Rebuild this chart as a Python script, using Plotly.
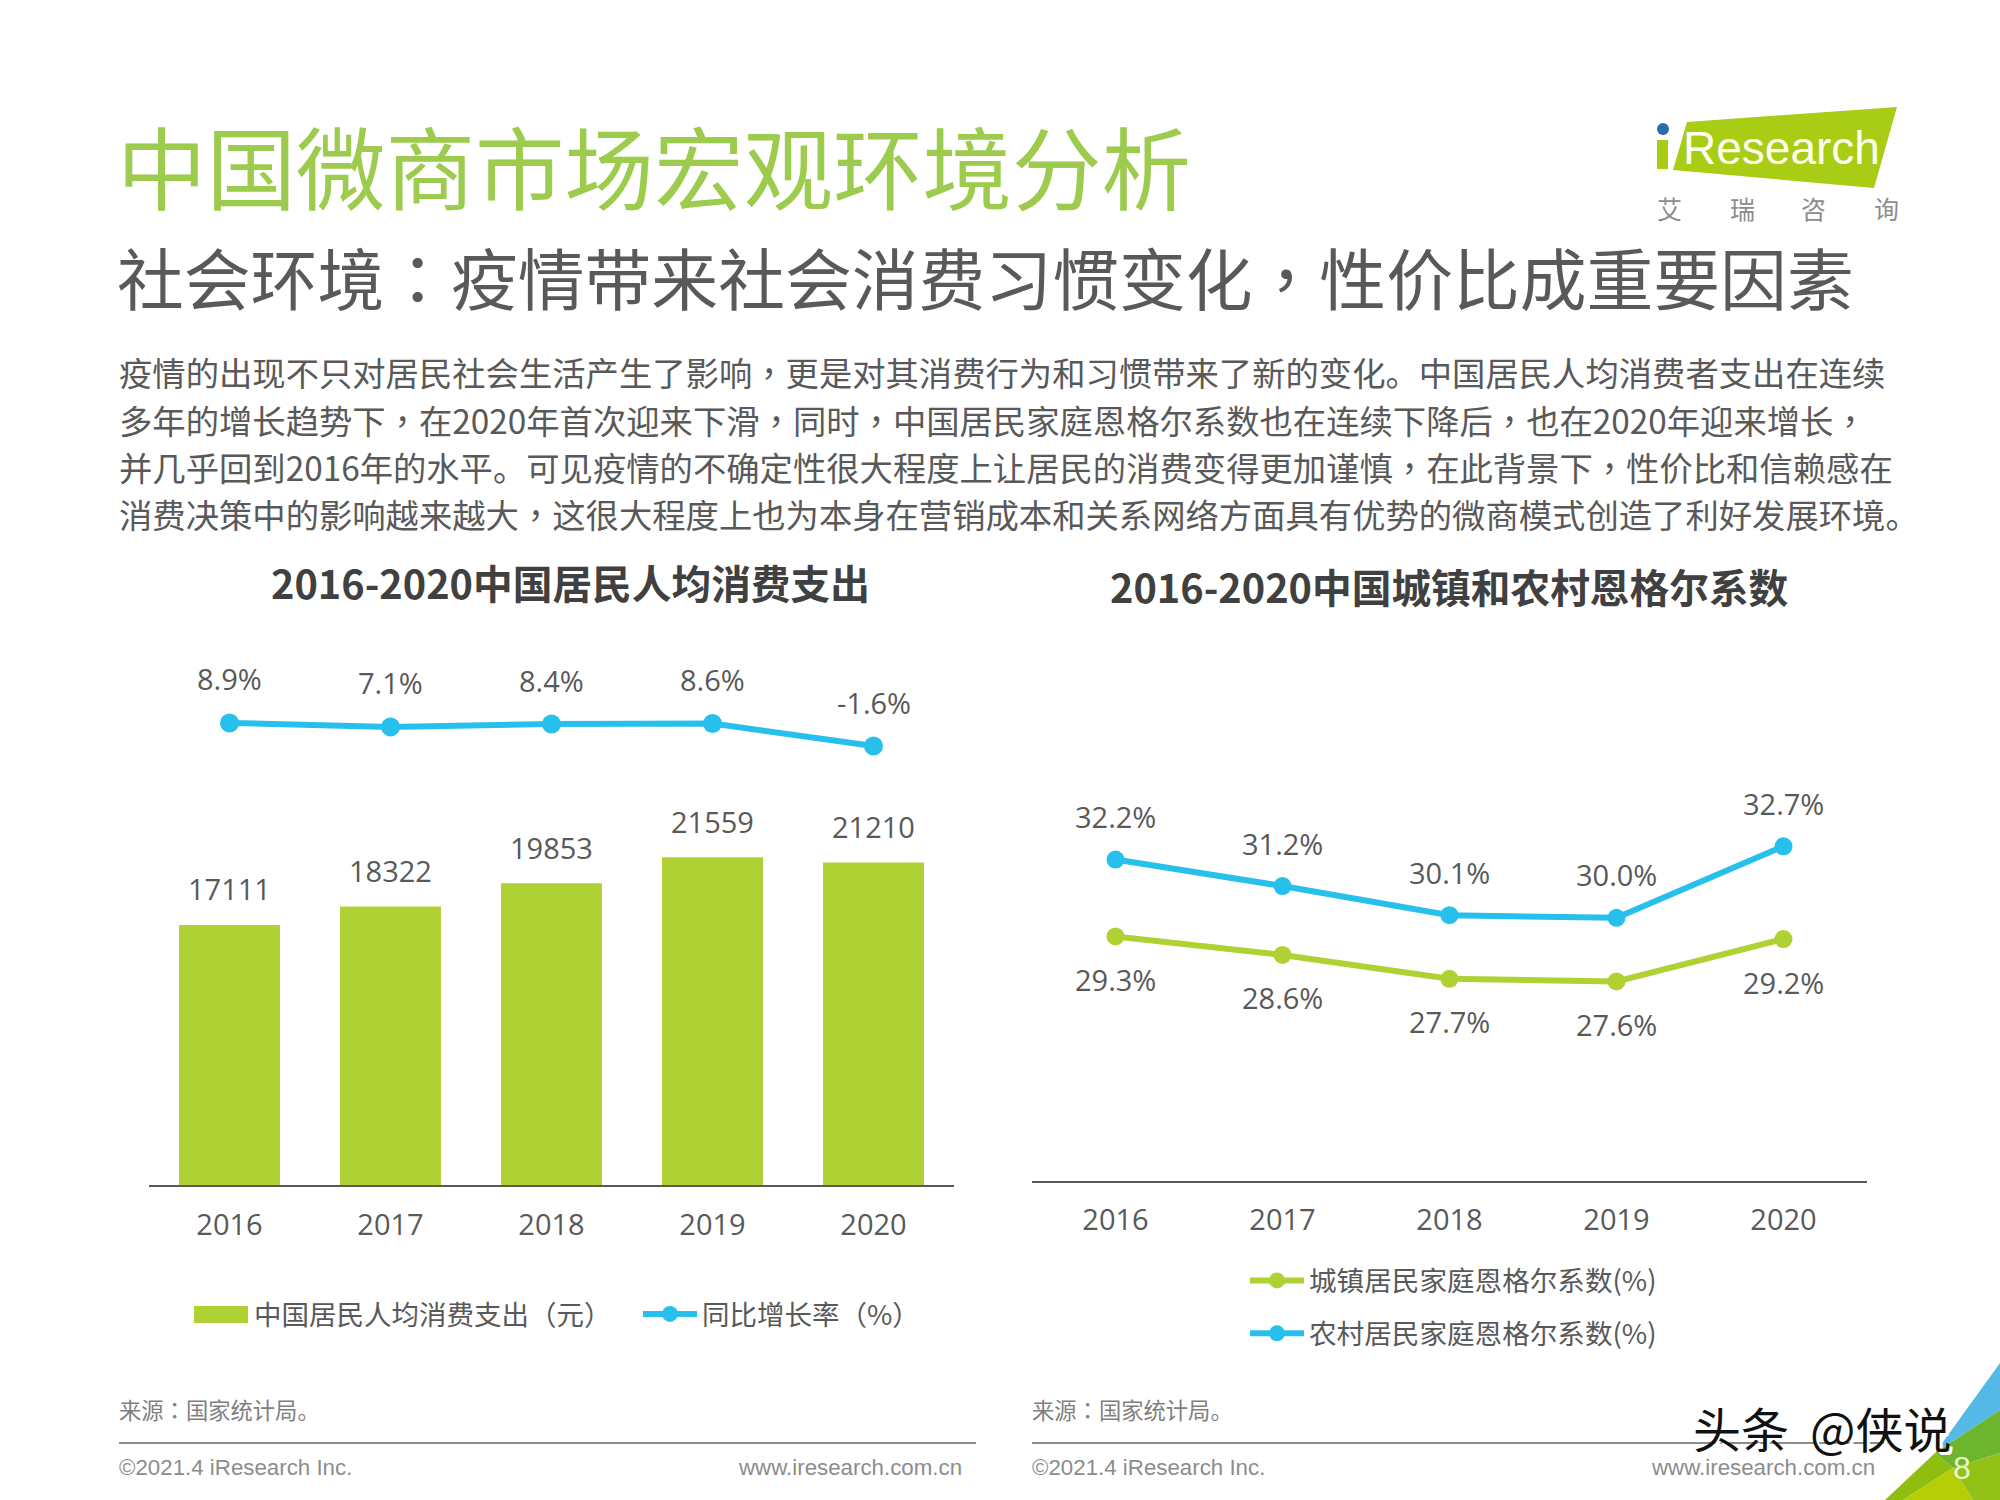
import plotly.graph_objects as go

years = ["2016", "2017", "2018", "2019", "2020"]
spending = [17111, 18322, 19853, 21559, 21210]
growth = [8.9, 7.1, 8.4, 8.6, -1.6]
growth_labels = ["8.9%", "7.1%", "8.4%", "8.6%", "-1.6%"]
urban = [29.3, 28.6, 27.7, 27.6, 29.2]
rural = [32.2, 31.2, 30.1, 30.0, 32.7]

title_main = "中国微商市场宏观环境分析"
title_sub = "社会环境：疫情带来社会消费习惯变化，性价比成重要因素"
body_lines = [
    "疫情的出现不只对居民社会生活产生了影响，更是对其消费行为和习惯带来了新的变化。中国居民人均消费者支出在连续",
    "多年的增长趋势下，在2020年首次迎来下滑，同时，中国居民家庭恩格尔系数也在连续下降后，也在2020年迎来增长，",
    "并几乎回到2016年的水平。可见疫情的不确定性很大程度上让居民的消费变得更加谨慎，在此背景下，性价比和信赖感在",
    "消费决策中的影响越来越大，这很大程度上也为本身在营销成本和关系网络方面具有优势的微商模式创造了利好发展环境。",
]
chart_title_left = "2016-2020中国居民人均消费支出"
chart_title_right = "2016-2020中国城镇和农村恩格尔系数"
source = "来源：国家统计局。"
copyright_text = "©2021.4 iResearch Inc."
website = "www.iresearch.com.cn"
legend_bar = "中国居民人均消费支出（元）"
legend_growth = "同比增长率（%）"
legend_urban = "城镇居民家庭恩格尔系数(%)"
legend_rural = "农村居民家庭恩格尔系数(%)"

W, H = 2000, 1500
GREEN = "#AFD133"
BLUE = "#27C0EC"
GRAY = "#595959"
CJK = "Noto Sans CJK SC"
LAT = "Open Sans, Noto Sans CJK SC"
FOOT = "Liberation Sans"


def py(p):
    return 1 - p / H


def px(p):
    return p / W


def punct(s):
    """Centred full-width punctuation, as in the reference typeface."""
    for ch in "：，（）":
        s = s.replace(ch, f"<span style=\"font-family:'Noto Sans CJK TC'\">{ch}</span>")
    return s


fig = go.Figure()

fig.add_trace(go.Bar(x=years, y=spending, name=punct(legend_bar), marker=dict(color=GREEN, line_width=0),
                     xaxis="x", yaxis="y", legend="legend", hoverinfo="skip"))
fig.add_trace(go.Scatter(x=years, y=growth, name=punct(legend_growth), mode="lines+markers",
                         line=dict(color=BLUE, width=6), marker=dict(color=BLUE, size=19),
                         xaxis="x", yaxis="y2", legend="legend"))
fig.add_trace(go.Scatter(x=years, y=urban, name=legend_urban, mode="lines+markers",
                         line=dict(color=GREEN, width=6), marker=dict(color=GREEN, size=18),
                         xaxis="x3", yaxis="y3", legend="legend2", legendgroup="urban"))
fig.add_trace(go.Scatter(x=years, y=rural, name=legend_rural, mode="lines+markers",
                         line=dict(color=BLUE, width=6), marker=dict(color=BLUE, size=18),
                         xaxis="x3", yaxis="y3", legend="legend2", legendgroup="rural"))

ann = []


def text(x, y, s, size, color=GRAY, family=CJK, anchor="left", weight=None):
    ann.append(dict(xref="paper", yref="paper", x=px(x), y=py(y), text=s, showarrow=False,
                    xanchor=anchor, yanchor="middle", align=anchor,
                    font=dict(size=size, color=color, family=family, weight=weight)))


def vlabels(xaxis, yaxis, ys, labels, shift):
    for i, (b, c) in enumerate(zip(ys, labels)):
        ann.append(dict(xref=xaxis, yref=yaxis, x=i, y=b, text=c, showarrow=False, yshift=shift,
                        xanchor="center", yanchor="middle", font=dict(size=29, color=GRAY, family=LAT)))


vlabels("x", "y", spending, [str(v) for v in spending], 36)
vlabels("x", "y2", growth, growth_labels, 44)
vlabels("x3", "y3", rural, [f"{v:.1f}%" for v in rural], 43)
vlabels("x3", "y3", urban, [f"{v:.1f}%" for v in urban], -43)

text(115, 164, title_main, 89.5, color="#9CCB4D")
text(115, 276, punct(title_sub), 66.8)
for yy, line in zip([371.5, 419.5, 466.5, 513.5], body_lines):
    text(117, yy, punct(line), 33.33)
text(570, 581.5, chart_title_left, 39.7, color="#404040", anchor="center", weight=700)
text(1449, 585.5, chart_title_right, 39.7, color="#404040", anchor="center", weight=700)
text(117, 1408.5, punct(source), 22.3, color="#7F7F7F")
text(1030, 1408.5, punct(source), 22.3, color="#7F7F7F")
text(117, 1467, copyright_text, 22.3, color="#8C8C8C", family=FOOT)
text(964, 1467, website, 22.3, color="#8C8C8C", family=FOOT, anchor="right")
text(1030, 1467, copyright_text, 22.3, color="#8C8C8C", family=FOOT)
text(1877, 1467, website, 22.3, color="#8C8C8C", family=FOOT, anchor="right")

# logo text
text(1781, 148, "Research", 46, color="#FFFFF0", family=FOOT, anchor="center")
for xx, ch in zip([1669, 1742, 1813, 1886], "艾瑞咨询"):
    text(xx, 208, ch, 25, color="#8C8C8C", anchor="center")
# watermark
for dx, col in [(3, "#FFFFFF"), (0, "#111111")]:
    text(1691 + dx, 1427 + dx, "头条", 48, color=col)
    text(1808 + dx, 1427 + dx, "@侠说", 48, color=col)
# page number
text(1962, 1468, "8", 32, color="#EAF5C4", family=FOOT, anchor="center")


def poly(points, color, layer="below"):
    path = "M" + " L".join(f"{px(a)},{py(b)}" for a, b in points) + " Z"
    return dict(type="path", xref="paper", yref="paper", path=path, fillcolor=color, line_width=0, layer=layer)


def hline(x0, x1, y, color="#8C8C8C", w=2):
    return dict(type="line", xref="paper", yref="paper", x0=px(x0), x1=px(x1), y0=py(y), y1=py(y),
                line=dict(color=color, width=w), layer="below")


shapes = [
    hline(119, 976, 1443),
    hline(1032, 1888, 1443),
    poly([(1687, 122), (1897, 107), (1874, 188), (1673, 170)], "#A9CC14"),
    poly([(1657, 140), (1668, 140), (1668, 169), (1657, 169)], "#A9CC14"),
    dict(type="circle", xref="paper", yref="paper", x0=px(1657), x1=px(1669), y0=py(135), y1=py(123),
         fillcolor="#2B6CB0", line_width=0),
    poly([(2000, 1363), (1935, 1453), (2000, 1410)], "#55B9E6"),
    poly([(1935, 1453), (2000, 1410), (2000, 1453), (1953, 1468)], "#6DB52D"),
    poly([(1885, 1500), (1935, 1453), (1953, 1468), (1903, 1500)], "#8FBE0F"),
    poly([(1903, 1500), (1953, 1468), (1973, 1500)], "#B5CE05"),
    poly([(1953, 1468), (2000, 1453), (2000, 1500), (1973, 1500)], "#92C118"),
    # wide legend swatch of the bar series
    poly([(194, 1306), (248, 1306), (248, 1323), (194, 1323)], GREEN, layer="above"),
]

fig.update_layout(
    width=W, height=H, margin=dict(l=0, r=0, t=0, b=0),
    paper_bgcolor="white", plot_bgcolor="white",
    font=dict(family=CJK, color=GRAY),
    bargap=0.373,
    annotations=ann, shapes=shapes,
    xaxis=dict(domain=[px(149), px(954)], anchor="y", type="category", range=[-0.5, 4.5], showgrid=False, ticks="",
               showline=True, linecolor="#595959", linewidth=2, tickfont=dict(size=29, family=LAT, color=GRAY),
               ticklabelstandoff=13, zeroline=False),
    yaxis=dict(domain=[py(1185), py(805)], range=[0, 25000], visible=False, fixedrange=True),
    yaxis2=dict(domain=[py(764.5), py(698.5)], range=[-10, 20], visible=False, anchor="x"),
    xaxis3=dict(domain=[px(1032), px(1867)], anchor="y3", type="category", range=[-0.5, 4.5], showgrid=False, ticks="",
                showline=True, linecolor="#595959", linewidth=2, tickfont=dict(size=29, family=LAT, color=GRAY),
                ticklabelstandoff=12, zeroline=False),
    yaxis3=dict(domain=[py(1181), py(651)], range=[20.07, 40.07], visible=False, anchor="x3"),
    legend=dict(orientation="h", x=px(190), y=py(1314), xanchor="left", yanchor="middle",
                font=dict(size=27.5, color=GRAY, family=CJK), itemwidth=54, bgcolor="rgba(0,0,0,0)",
                entrywidth=379, entrywidthmode="pixels"),
    legend2=dict(orientation="v", x=px(1245), y=py(1307), xanchor="left", yanchor="middle",
                 font=dict(size=27.6, color=GRAY, family=CJK), itemwidth=54, bgcolor="rgba(0,0,0,0)",
                 tracegroupgap=14),
    showlegend=True,
)

fig.write_html("out.html", post_script="document.body.style.margin='0';",
               config={"displayModeBar": False})
